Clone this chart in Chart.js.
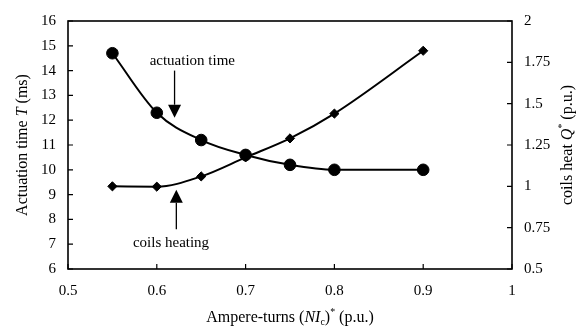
<!DOCTYPE html>
<html>
<head>
<meta charset="utf-8">
<script src="https://cdn.jsdelivr.net/npm/chart.js@4"></script>
<style>
  html, body { margin: 0; padding: 0; background: #fff; }
  #wrap { width: 587px; height: 335px; }
</style>
</head>
<body>
<div id="wrap"><canvas id="chart" width="587" height="335"></canvas></div>
<script>
// data
var ampereTurns = [0.55, 0.6, 0.65, 0.7, 0.75, 0.8, 0.9];
var actuationTime = [14.7, 12.3, 11.2, 10.6, 10.2, 10.0, 10.0];
var coilsHeat = [1.0, 0.998, 1.06, 1.175, 1.29, 1.44, 1.82];

var FONT = '"Liberation Serif", "Times New Roman", serif';

function pts(xs, ys) {
  var out = [];
  for (var i = 0; i < xs.length; i++) out.push({x: xs[i], y: ys[i]});
  return out;
}

function fmt(v) { return String(+v.toFixed(2)); }

// draws a run of text pieces (normal / italic / sub / sup) centred on x,y
function richText(ctx, parts, x, y, size) {
  var w = 0, i, p;
  function setFont(p) {
    var s = (p.sub || p.sup) ? size * 0.62 : size;
    ctx.font = (p.italic ? 'italic ' : '') + s + 'px ' + FONT;
  }
  for (i = 0; i < parts.length; i++) { setFont(parts[i]); w += ctx.measureText(parts[i].t).width; }
  var cx = x - w / 2;
  ctx.textBaseline = 'middle';
  ctx.textAlign = 'left';
  for (i = 0; i < parts.length; i++) {
    p = parts[i];
    setFont(p);
    var dy = p.sub ? size * 0.3 : (p.sup ? -size * 0.32 : 0);
    ctx.fillText(p.t, cx, y + dy);
    cx += ctx.measureText(p.t).width;
  }
}

function arrow(ctx, x, yFrom, yTip) {
  var dir = yTip > yFrom ? 1 : -1;
  var headH = 13, headW = 6.5;
  ctx.beginPath();
  ctx.moveTo(x, yFrom);
  ctx.lineTo(x, yTip - dir * headH);
  ctx.lineWidth = 1.3;
  ctx.strokeStyle = '#000';
  ctx.stroke();
  ctx.beginPath();
  ctx.moveTo(x, yTip);
  ctx.lineTo(x - headW, yTip - dir * headH);
  ctx.lineTo(x + headW, yTip - dir * headH);
  ctx.closePath();
  ctx.fillStyle = '#000';
  ctx.fill();
}

var decorPlugin = {
  id: 'decor',
  afterDraw: function(chart) {
    var ctx = chart.ctx, a = chart.chartArea;
    var sx = chart.scales.x, sy = chart.scales.y, sy1 = chart.scales.y1;
    ctx.save();
    // frame
    ctx.strokeStyle = '#000';
    ctx.lineWidth = 1.6;
    ctx.strokeRect(a.left, a.top, a.right - a.left, a.bottom - a.top);
    // inward ticks
    ctx.lineWidth = 1.2;
    ctx.beginPath();
    sx.ticks.forEach(function(t) {
      var px = sx.getPixelForValue(t.value);
      ctx.moveTo(px, a.bottom); ctx.lineTo(px, a.bottom - 5);
    });
    sy.ticks.forEach(function(t) {
      var py = sy.getPixelForValue(t.value);
      ctx.moveTo(a.left, py); ctx.lineTo(a.left + 5, py);
    });
    sy1.ticks.forEach(function(t) {
      var py = sy1.getPixelForValue(t.value);
      ctx.moveTo(a.right, py); ctx.lineTo(a.right - 5, py);
    });
    ctx.stroke();

    // axis titles
    ctx.fillStyle = '#000';
    richText(ctx, [
      {t: 'Ampere-turns ('}, {t: 'NI', italic: true}, {t: 'c', sub: true},
      {t: ')'}, {t: '*', sup: true}, {t: ' (p.u.)'}
    ], (a.left + a.right) / 2, 318, 16);

    ctx.save();
    ctx.translate(23, (a.top + a.bottom) / 2);
    ctx.rotate(-Math.PI / 2);
    richText(ctx, [{t: 'Actuation time '}, {t: 'T', italic: true}, {t: ' (ms)'}], 0, 0, 16);
    ctx.restore();

    ctx.save();
    ctx.translate(568, (a.top + a.bottom) / 2);
    ctx.rotate(-Math.PI / 2);
    richText(ctx, [{t: 'coils heat '}, {t: 'Q', italic: true}, {t: '*', sup: true}, {t: ' (p.u.)'}], 0, 0, 16);
    ctx.restore();

    // annotations
    ctx.font = '15px ' + FONT;
    ctx.textAlign = 'center';
    ctx.textBaseline = 'middle';
    ctx.fillText('actuation time', sx.getPixelForValue(0.64), sy.getPixelForValue(14.39));
    arrow(ctx, sx.getPixelForValue(0.62), sy.getPixelForValue(14.0), sy.getPixelForValue(12.1));
    ctx.font = '15px ' + FONT;
    ctx.textAlign = 'center';
    ctx.fillText('coils heating', sx.getPixelForValue(0.616), sy.getPixelForValue(7.06));
    arrow(ctx, sx.getPixelForValue(0.622), sy.getPixelForValue(7.6), sy.getPixelForValue(9.2));
    ctx.restore();
  }
};

var tickFont = {family: FONT, size: 15};

new Chart(document.getElementById('chart').getContext('2d'), {
  type: 'line',
  data: {
    datasets: [
      {
        label: 'actuation time',
        data: pts(ampereTurns, actuationTime),
        yAxisID: 'y',
        borderColor: '#000',
        backgroundColor: '#000',
        borderWidth: 2,
        pointStyle: 'circle',
        pointRadius: 5.8,
        pointHoverRadius: 5.8,
        pointBorderWidth: 1,
        cubicInterpolationMode: 'monotone'
      },
      {
        label: 'coils heating',
        data: pts(ampereTurns, coilsHeat),
        yAxisID: 'y1',
        borderColor: '#000',
        backgroundColor: '#000',
        borderWidth: 2,
        pointStyle: 'rectRot',
        pointRadius: 4.6,
        pointHoverRadius: 4.6,
        pointBorderWidth: 1,
        cubicInterpolationMode: 'monotone'
      }
    ]
  },
  options: {
    responsive: false,
    animation: false,
    layout: {padding: {top: 14, left: 0, right: 0, bottom: 0}},
    plugins: {legend: {display: false}, tooltip: {enabled: false}},
    scales: {
      x: {
        type: 'linear', min: 0.5, max: 1,
        ticks: {stepSize: 0.1, color: '#000', font: tickFont, padding: 13, callback: fmt, maxRotation: 0},
        grid: {display: false, drawTicks: false},
        border: {display: false},
        afterFit: function(s) { s.height = 66; }
      },
      y: {
        position: 'left', min: 6, max: 16,
        ticks: {stepSize: 1, color: '#000', font: tickFont, padding: 12, callback: fmt},
        grid: {display: false, drawTicks: false},
        border: {display: false},
        afterFit: function(s) { s.width = 68; }
      },
      y1: {
        position: 'right', min: 0.5, max: 2,
        ticks: {stepSize: 0.25, color: '#000', font: tickFont, padding: 12, callback: fmt},
        grid: {display: false, drawTicks: false},
        border: {display: false},
        afterFit: function(s) { s.width = 75; }
      }
    }
  },
  plugins: [decorPlugin]
});
</script>
</body>
</html>
